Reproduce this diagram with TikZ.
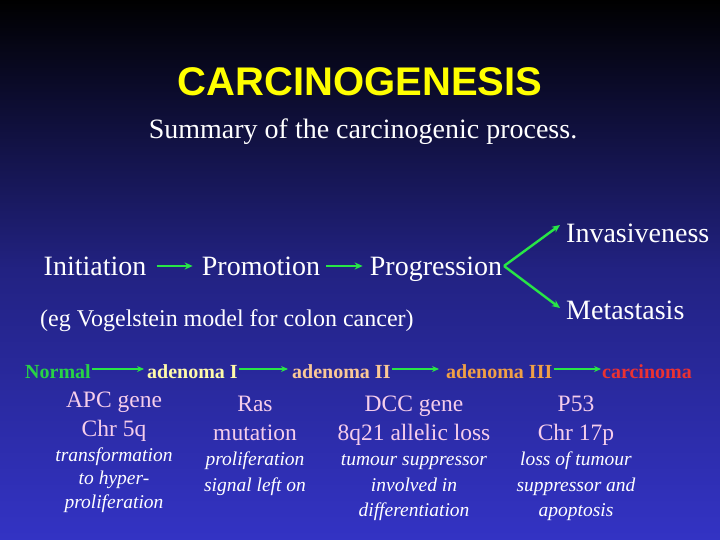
\documentclass[tikz,border=0pt]{standalone}
\usepackage{fontspec}
\setmainfont{Liberation Serif}
\newfontfamily\arialfont{Liberation Sans}
\usetikzlibrary{arrows.meta}
\definecolor{bgtop}{RGB}{0,0,0}
\definecolor{bgmid}{RGB}{34,34,130}
\definecolor{bgbot}{RGB}{51,51,196}
\definecolor{ttl}{RGB}{255,255,0}
\definecolor{arrgreen}{RGB}{40,230,70}
\definecolor{normalc}{RGB}{40,210,70}
\definecolor{adIc}{RGB}{255,250,170}
\definecolor{adIIc}{RGB}{250,200,150}
\definecolor{adIIIc}{RGB}{240,160,70}
\definecolor{carcc}{RGB}{235,50,50}
\definecolor{genec}{RGB}{245,205,235}
\tikzset{
  stage/.style={anchor=base,text=white,font=\fontsize{28}{30}\selectfont,inner sep=0pt},
  bottomlbl/.style={anchor=base,font=\fontsize{20}{22}\selectfont\bfseries,inner sep=0pt},
  genelbl/.style={anchor=base,text=genec,font=\fontsize{23.5}{26}\selectfont,inner sep=0pt},
  itlbl/.style={anchor=base,text=white,font=\fontsize{19.5}{22}\selectfont\itshape,inner sep=0pt},
  bigarrow/.style={draw=arrgreen,line width=2.4pt,-{Stealth[length=8pt,width=7pt]}},
  smallarrow/.style={draw=arrgreen,line width=2pt,-{Stealth[length=7pt,width=6pt]}}
}
\begin{document}
\begin{tikzpicture}[x=1pt,y=-1pt]
\shade[top color=bgtop,bottom color=bgbot,middle color=bgmid] (0,0) rectangle (720,540);
\useasboundingbox (0,0) rectangle (720,540);
% title
\node[anchor=base,text=ttl,inner sep=0pt,font=\arialfont\bfseries\fontsize{40}{44}\selectfont] (title) at (360,96) {CARCINOGENESIS};
\node[anchor=base,text=white,inner sep=0pt,font=\fontsize{28}{30}\selectfont] (sub) at (363,139) {Summary of the carcinogenic process.};
% stages
\node[stage] (init) at (95,275) {Initiation};
\node[stage] (prom) at (261,275) {Promotion};
\node[stage] (prog) at (436,275) {Progression};
\node[stage,anchor=base west] (inv) at (566,242) {Invasiveness};
\node[stage,anchor=base west] (met) at (566,319) {Metastasis};
\node[anchor=base west,text=white,inner sep=0pt,font=\fontsize{24}{26}\selectfont] (eg) at (40,326) {(eg Vogelstein model for colon cancer)};
\coordinate (split) at (504,266);
\draw[bigarrow] ([xshift=10pt,yshift=9pt]init.base east) -- ([xshift=-9pt,yshift=9pt]prom.base west);
\draw[bigarrow] ([xshift=6pt,yshift=9pt]prom.base east) -- ([xshift=-7pt,yshift=9pt]prog.base west);
\draw[bigarrow] (split) -- (560,225);
\draw[bigarrow] (split) -- (560,308);
% bottom row
\node[bottomlbl,text=normalc,anchor=base west] (norm) at (25,378) {Normal};
\node[bottomlbl,text=adIc,anchor=base west] (ad1) at (147,378) {adenoma I};
\node[bottomlbl,text=adIIc,anchor=base west] (ad2) at (292,378) {adenoma II};
\node[bottomlbl,text=adIIIc,anchor=base west] (ad3) at (446,378) {adenoma III};
\node[bottomlbl,text=carcc,anchor=base west] (carc) at (602,378) {carcinoma};
\draw[smallarrow] ([xshift=1pt,yshift=9pt]norm.base east) -- ([xshift=-3pt,yshift=9pt]ad1.base west);
\draw[smallarrow] ([xshift=1pt,yshift=9pt]ad1.base east) -- ([xshift=-4pt,yshift=9pt]ad2.base west);
\draw[smallarrow] ([xshift=1pt,yshift=9pt]ad2.base east) -- ([xshift=-7pt,yshift=9pt]ad3.base west);
\draw[smallarrow] ([xshift=1pt,yshift=9pt]ad3.base east) -- ([xshift=-1pt,yshift=9pt]carc.base west);
% column 1
\node[genelbl] (c1a) at (114,407) {APC gene};
\node[genelbl] (c1b) at (114,436) {Chr 5q};
\node[itlbl] (c1c) at (114,461) {transformation};
\node[itlbl] (c1d) at (114,484) {to hyper-};
\node[itlbl] (c1e) at (114,508) {proliferation};
% column 2
\node[genelbl] (c2a) at (255,411) {Ras};
\node[genelbl] (c2b) at (255,440) {mutation};
\node[itlbl] (c2c) at (255,465) {proliferation};
\node[itlbl] (c2d) at (255,491) {signal left on};
% column 3
\node[genelbl] (c3a) at (414,411) {DCC gene};
\node[genelbl] (c3b) at (414,440) {8q21 allelic loss};
\node[itlbl] (c3c) at (414,465) {tumour suppressor};
\node[itlbl] (c3d) at (414,491) {involved in};
\node[itlbl] (c3e) at (414,516) {differentiation};
% column 4
\node[genelbl] (c4a) at (576,411) {P53};
\node[genelbl] (c4b) at (576,440) {Chr 17p};
\node[itlbl] (c4c) at (576,465) {loss of tumour};
\node[itlbl] (c4d) at (576,491) {suppressor and};
\node[itlbl] (c4e) at (576,516) {apoptosis};
\end{tikzpicture}
\end{document}
